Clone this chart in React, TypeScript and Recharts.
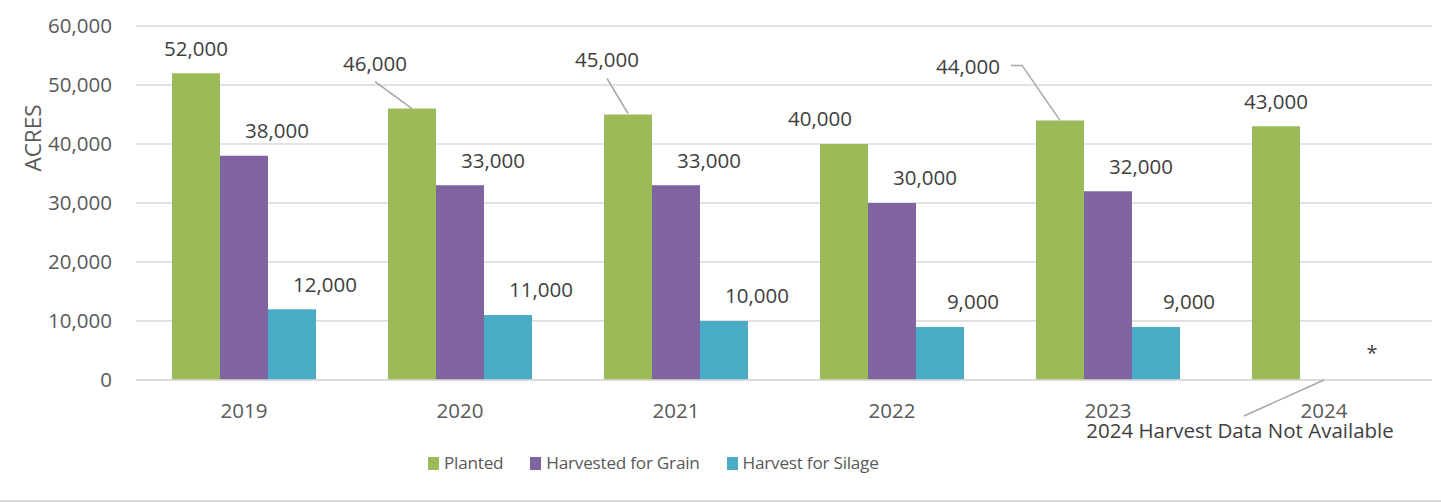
import { BarChart, Bar, XAxis, YAxis, CartesianGrid, LabelList } from 'recharts'

const years = ['2019', '2020', '2021', '2022', '2023', '2024']
const planted = [52000, 46000, 45000, 40000, 44000, 43000]
const harvestedGrain = [38000, 33000, 33000, 30000, 32000, null]
const harvestSilage = [12000, 11000, 10000, 9000, 9000, null]
const yTicks = [0, 10000, 20000, 30000, 40000, 50000, 60000]

const SERIES = [
  { key: 'planted', name: 'Planted', color: '#9BBB59' },
  { key: 'grain', name: 'Harvested for Grain', color: '#8064A2' },
  { key: 'silage', name: 'Harvest for Silage', color: '#4BACC6' },
]

// where the Planted labels sit relative to their bar (Excel had some dragged off)
const plantedNudge = [
  { dx: 0, dy: -25 },
  { dx: -37, dy: -45 },
  { dx: -21, dy: -55 },
  { dx: -24, dy: -25 },
  { dx: -92, dy: -54 },
  { dx: 0, dy: -25 },
]

const FONT = '"Open Sans", sans-serif'
const LABEL_COLOR = '#404040'
const TICK_COLOR = '#595959'
const GRID = '#d9d9d9'

const data = years.map((year, i) => ({
  year,
  planted: planted[i],
  grain: harvestedGrain[i],
  silage: harvestSilage[i],
}))

const fmt = (v: number) => v.toLocaleString('en-US')

function box(props: any) {
  const vb = props.viewBox ?? props
  return {
    x: Number(vb.x ?? props.x),
    y: Number(vb.y ?? props.y),
    w: Number(vb.width ?? props.width),
    h: Number(vb.height ?? props.height),
  }
}

function PlantedLabel(props: any) {
  const { index, value } = props
  if (value == null) return null
  const { x, y, w, h } = box(props)
  const cx = x + w / 2
  const n = plantedNudge[index] ?? { dx: 0, dy: -25 }
  const bottom = y + h
  const lead = { stroke: '#a6a6a6', strokeWidth: 1.5, fill: 'none' }
  return (
    <g>
      <text x={cx + n.dx} y={y + n.dy} dy="0.36em" textAnchor="middle" fontSize={20.5} fontFamily={FONT} fill={LABEL_COLOR}>
        {fmt(value)}
      </text>
      {index === 1 && <line x1={cx - 37} y1={y - 27} x2={cx} y2={y} {...lead} />}
      {index === 2 && <line x1={cx - 21} y1={y - 36} x2={cx} y2={y - 1} {...lead} />}
      {index === 4 && <polyline points={`${cx - 49},${y - 55} ${cx - 38},${y - 55} ${cx},${y}`} {...lead} />}
      {index === 5 && (
        <g>
          <text x={x + 2.5 * w} y={bottom - 20} textAnchor="middle" fontSize={20} fontFamily={FONT} fill={LABEL_COLOR}>*</text>
          <line x1={x + w + 24} y1={bottom} x2={x - 8} y2={bottom + 36} {...lead} />
          <text x={x - 12} y={bottom + 58} textAnchor="middle" fontSize={20.5} fontFamily={FONT} fill={LABEL_COLOR}>
            2024 Harvest Data Not Available
          </text>
        </g>
      )}
    </g>
  )
}

function SideLabel(props: any) {
  const { value } = props
  if (value == null) return null
  const { x, y, w } = box(props)
  return (
    <text x={x + w / 2 + 33} y={y - 25} dy="0.36em" textAnchor="middle" fontSize={20.5} fontFamily={FONT} fill={LABEL_COLOR}>
      {fmt(value)}
    </text>
  )
}

export default function App() {
  return (
    <div style={{ position: 'absolute', left: 0, top: 0, width: 1441, height: 503, background: '#fff' }}>
      <BarChart
        width={1441}
        height={503}
        data={data}
        margin={{ top: 26, right: 9, left: 0, bottom: 0 }}
        barGap={0}
        barSize={48}
      >
        <CartesianGrid vertical={false} stroke={GRID} strokeWidth={1.5} />
        <XAxis
          dataKey="year"
          height={123}
          tickLine={false}
          tickSize={0}
          tickMargin={23}
          axisLine={{ stroke: GRID, strokeWidth: 1.5 }}
          tick={{ fontSize: 20.5, fontFamily: FONT, fill: TICK_COLOR }}
        />
        <YAxis
          width={136}
          domain={[0, 60000]}
          ticks={yTicks}
          tickFormatter={fmt}
          axisLine={false}
          tickLine={false}
          tickSize={0}
          tickMargin={24}
          tick={{ fontSize: 20.5, fontFamily: FONT, fill: TICK_COLOR }}
          label={{
            content: () => (
              <text x={33} y={138} transform="rotate(-90 33 138)" dy="0.36em" textAnchor="middle" fontSize={22.5} fontFamily={FONT} fill={TICK_COLOR}>
                ACRES
              </text>
            ),
          }}
        />
        <Bar dataKey="planted" name="Planted" fill={SERIES[0].color} isAnimationActive={false}>
          <LabelList dataKey="planted" content={PlantedLabel} />
        </Bar>
        <Bar dataKey="grain" name="Harvested for Grain" fill={SERIES[1].color} isAnimationActive={false}>
          <LabelList dataKey="grain" content={SideLabel} />
        </Bar>
        <Bar dataKey="silage" name="Harvest for Silage" fill={SERIES[2].color} isAnimationActive={false}>
          <LabelList dataKey="silage" content={SideLabel} />
        </Bar>
      </BarChart>

      {/* legend */}
      <div
        style={{
          position: 'absolute',
          left: 428,
          top: 452,
          display: 'flex',
          alignItems: 'center',
          gap: 27,
          fontFamily: FONT,
          fontSize: 17.2,
          letterSpacing: -0.25,
          color: TICK_COLOR,
          lineHeight: '22px',
        }}
      >
        {SERIES.map((s) => (
          <div key={s.key} style={{ display: 'flex', alignItems: 'center', gap: 5 }}>
            <span style={{ width: 11, height: 13, background: s.color, display: 'inline-block' }} />
            <span>{s.name}</span>
          </div>
        ))}
      </div>

      <div style={{ position: 'absolute', left: 0, top: 500, width: 1441, height: 2, background: GRID }} />
    </div>
  )
}
